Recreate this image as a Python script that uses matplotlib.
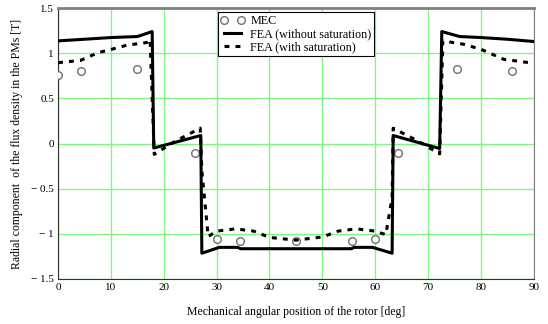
import matplotlib
matplotlib.use('Agg')
import matplotlib.pyplot as plt
import numpy as np

plt.rcParams['font.family'] = ['Liberation Serif', 'DejaVu Serif']

# FEA without saturation (solid)
x_nosat = [0, 5, 10, 15, 17.8, 18.1, 27.0, 27.2, 30.5, 34, 34.5, 55.5, 56, 59.5, 63.2, 63.4, 72.2, 72.6, 76, 80, 85, 90]
y_nosat = [1.137, 1.155, 1.174, 1.185, 1.24, -0.05, 0.089, -1.215, -1.15, -1.15, -1.165, -1.165, -1.15, -1.15, -1.215, 0.089, -0.055, 1.24, 1.185, 1.174, 1.155, 1.13]

# FEA with saturation (dashed)
x_sat = [0, 4.2, 7.6, 9.9, 13, 16.8, 17.4, 18.2, 22, 26.9, 27.2, 28.4, 30, 33.6, 37, 40, 45, 50, 53, 56.4, 60, 62, 63.2, 63.4, 68, 72.2, 72.8, 76.7, 80, 84.3, 90]
y_sat = [0.896, 0.92, 1.007, 1.04, 1.089, 1.119, 1.156, -0.12, 0.02, 0.17, -0.3, -1.03, -0.97, -0.945, -0.97, -1.04, -1.07, -1.035, -0.97, -0.945, -0.97, -1.01, -0.6, 0.17, 0.03, -0.115, 1.137, 1.1, 1.044, 0.933, 0.889]

# MEC (circles)
x_mec = [0, 4.4, 15, 25.9, 30, 34.5, 45, 55.6, 60, 64.4, 75.4, 85.8]
y_mec = [0.76, 0.8, 0.83, -0.1, -1.056, -1.078, -1.085, -1.078, -1.056, -0.1, 0.83, 0.8]

xticks = [0, 10, 20, 30, 40, 50, 60, 70, 80, 90]
yticks = [-1.5, -1, -0.5, 0, 0.5, 1, 1.5]
ytick_labels = ['\u2212 1.5', '\u2212 1', '\u2212 0.5', '0', '0.5', '1', '1.5']

fig = plt.figure(figsize=(5.48, 3.24), dpi=100)
ax = fig.add_axes([0.106, 0.139, 0.868, 0.836])

ax.plot(x_mec, y_mec, 'o', ms=5.5, mfc='white', mec='#707070', mew=1.0, label='MEC', zorder=3)
ax.plot(x_nosat, y_nosat, '-', color='black', lw=2.2, label='FEA (without saturation)', zorder=4)
ax.plot(x_sat, y_sat, color='black', lw=2.2, dashes=(1.6, 2.0), label='FEA (with saturation)', zorder=4)

ax.set_xlim(0, 90)
ax.set_ylim(-1.5, 1.5)
ax.set_xticks(xticks)
ax.set_xticklabels([str(t) for t in xticks])
ax.set_yticks(yticks)
ax.set_yticklabels(ytick_labels)
ax.tick_params(length=0, labelsize=8, pad=3)
ax.grid(True, color='#80f880', lw=1.0)
ax.set_axisbelow(True)

ax.spines['top'].set_color('#808080')
ax.spines['top'].set_linewidth(2)
ax.spines['right'].set_color('#808080')
ax.spines['left'].set_color('#303030')
ax.spines['bottom'].set_color('#303030')

ax.set_xlabel('Mechanical angular position of the rotor [deg]', fontsize=8.5, labelpad=10)
ax.set_ylabel('Radial component  of the flux density in the PMs [T]', fontsize=8.5, labelpad=6)

leg = ax.legend(loc='upper center', fontsize=8.7, numpoints=2, frameon=True, fancybox=False,
                edgecolor='black', framealpha=1, borderpad=0.2, handlelength=2.0,
                labelspacing=0.1, borderaxespad=0.35, handletextpad=0.5)
leg.get_frame().set_linewidth(0.8)

fig.savefig('out.png', dpi=100)
